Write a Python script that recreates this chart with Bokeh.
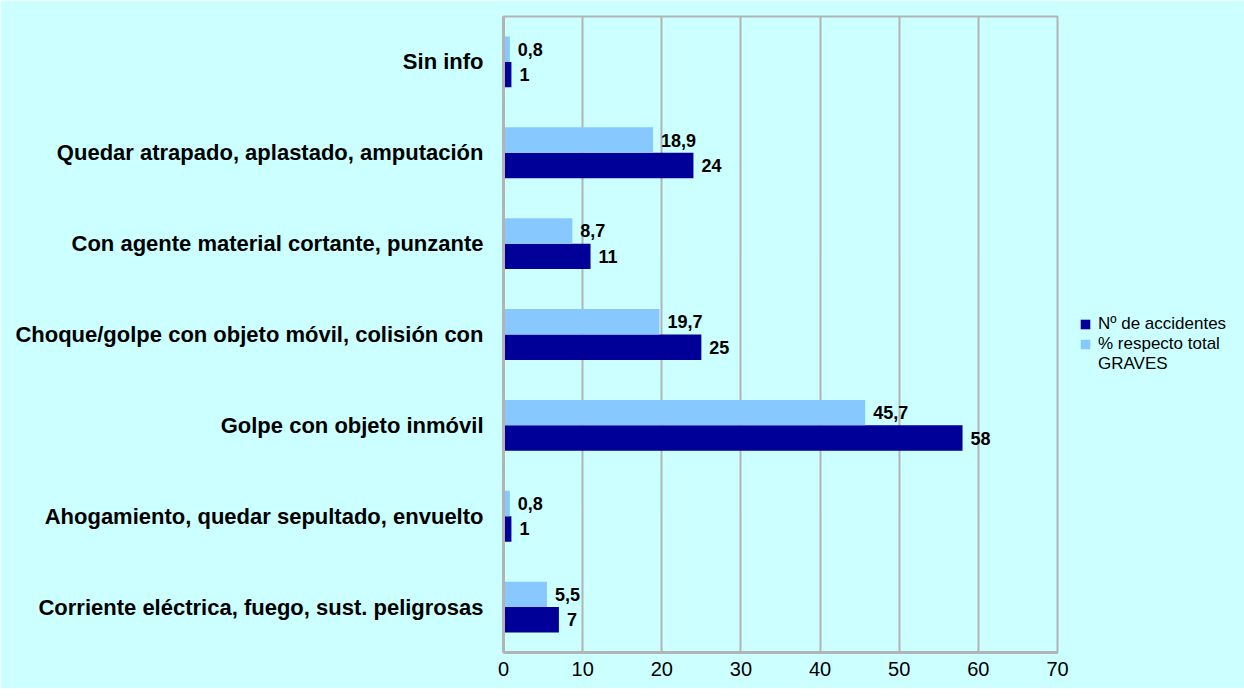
from bokeh.plotting import figure
from bokeh.models import FactorRange, ColumnDataSource, Legend, LegendItem, FixedTicker, Range1d
from bokeh.transform import dodge
from bokeh.core.properties import value
from bokeh.embed import file_html
from bokeh.resources import INLINE

categories = [
    "Sin info",
    "Quedar atrapado, aplastado, amputación",
    "Con agente material cortante, punzante",
    "Choque/golpe con objeto móvil, colisión con",
    "Golpe con objeto inmóvil",
    "Ahogamiento, quedar sepultado, envuelto",
    "Corriente eléctrica, fuego, sust. peligrosas",
]
n_accidentes = [1, 24, 11, 25, 58, 1, 7]
pct_graves = [0.8, 18.9, 8.7, 19.7, 45.7, 0.8, 5.5]
x_ticks = [0, 10, 20, 30, 40, 50, 60, 70]
series_names = ["Nº de accidentes", "% respecto total", "GRAVES"]


def fmt(v):
    if isinstance(v, int):
        return str(v)
    return f"{v:.1f}".replace(".", ",")


src = ColumnDataSource(dict(
    cat=categories,
    n=n_accidentes,
    pct=pct_graves,
    n_lbl=[fmt(v) for v in n_accidentes],
    pct_lbl=[fmt(v) for v in pct_graves],
))

FONT = "Liberation Sans"
BG = "#CCFFFF"
GRID = "#B3B3B3"
DARK = "#000099"
LIGHT = "#86C8FF"

p = figure(
    frame_width=554, frame_height=636,
    y_range=FactorRange(factors=categories[::-1]),
    x_range=Range1d(0, 70),
    output_backend="svg", toolbar_location=None,
    min_border_left=503, min_border_right=179, min_border_top=16, min_border_bottom=36,
)
p.background_fill_color = BG
p.border_fill_color = BG
p.outline_line_color = GRID
p.outline_line_width = 2

bar_h = 0.28
off = 0.14
r_dark = p.hbar(y=dodge("cat", -off, range=p.y_range), right="n", left=0, height=bar_h,
                source=src, fill_color=DARK, line_color=None)
r_light = p.hbar(y=dodge("cat", off, range=p.y_range), right="pct", left=0, height=bar_h,
                 source=src, fill_color=LIGHT, line_color=None)

p.text(x="n", y=dodge("cat", -off, range=p.y_range), text="n_lbl", source=src,
       x_offset=8, text_baseline="middle", text_align="left",
       text_font=value(FONT), text_font_style="bold", text_font_size="18px", text_color="black")
p.text(x="pct", y=dodge("cat", off, range=p.y_range), text="pct_lbl", source=src,
       x_offset=8, text_baseline="middle", text_align="left",
       text_font=value(FONT), text_font_style="bold", text_font_size="18px", text_color="black")

# axes
p.xaxis.ticker = FixedTicker(ticks=x_ticks)
p.xaxis.axis_line_color = GRID
p.xaxis.axis_line_width = 3
p.xaxis.major_tick_line_color = None
p.xaxis.minor_tick_line_color = None
p.xaxis.major_label_standoff = 3
p.xaxis.major_label_text_font = FONT
p.xaxis.major_label_text_font_size = "20px"
p.xaxis.major_label_text_color = "black"

p.yaxis.axis_line_color = GRID
p.yaxis.axis_line_width = 3
p.yaxis.major_tick_line_color = None
p.yaxis.major_label_standoff = 14
p.yaxis.major_label_text_font = FONT
p.yaxis.major_label_text_font_style = "bold"
p.yaxis.major_label_text_font_size = "22px"
p.yaxis.major_label_text_color = "black"

p.xgrid.grid_line_color = GRID
p.xgrid.grid_line_width = 2
p.ygrid.grid_line_color = None

legend = Legend(
    items=[LegendItem(label=series_names[0], renderers=[r_dark]),
           LegendItem(label=series_names[1], renderers=[r_light]),
           LegendItem(label=series_names[2], renderers=[])],
    location=(22, 278),
    background_fill_alpha=0, border_line_color=None,
    padding=0, margin=0, spacing=0,
    glyph_width=12, glyph_height=12, label_standoff=7,
    label_text_font=FONT, label_text_font_size="17px", label_height=20,
    label_text_color="black",
)
p.add_layout(legend, "right")

open("out.html", "w").write(file_html(p, INLINE))
